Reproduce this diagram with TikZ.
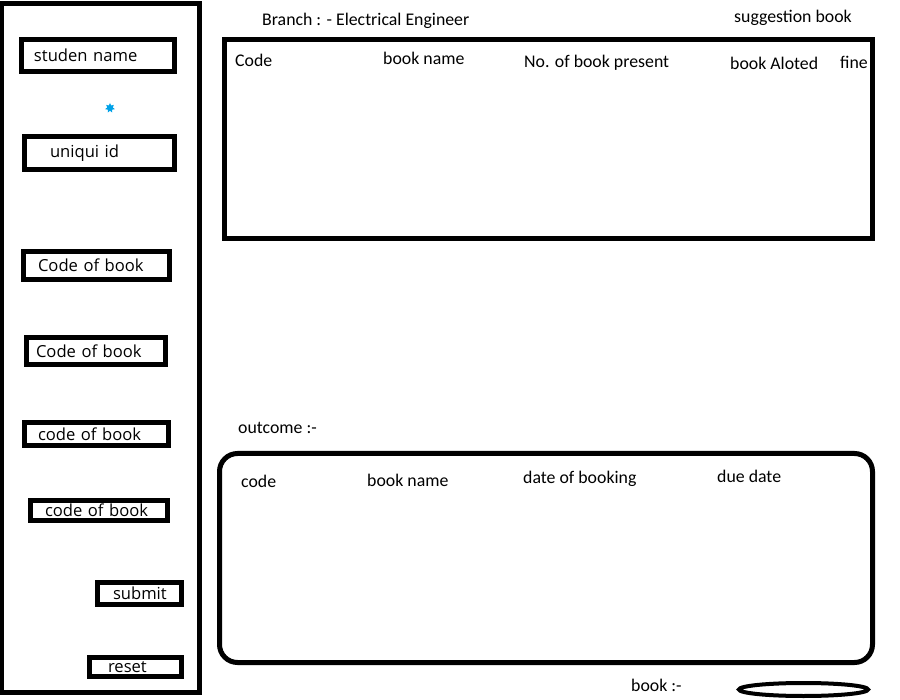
\documentclass[tikz,border=0pt]{standalone}
\usepackage{fontspec}
\setmainfont{Carlito}
\newfontfamily\boxfont{Open Sans}
\usetikzlibrary{shapes.geometric, positioning}
\definecolor{paintblue}{RGB}{0,162,232}

\begin{document}
\begin{tikzpicture}[x=1pt, y=-1pt,
    every node/.style={inner sep=0pt},
    lbl/.style={anchor=base west, font=\fontsize{17.8}{20}\selectfont},
    fieldbox/.style={draw, line width=5.5pt, inner xsep=0pt, align=left, font=\fontsize{16.6}{18}\selectfont\boxfont},
    panel/.style={draw, line width=5pt}]

\useasboundingbox (0,0) rectangle (900,700);

% Linke Leiste
\node[panel, line width=4.2pt, minimum width=197.5pt, minimum height=689pt] (side) at (100.75,348) {};
\node[fieldbox, text width=153pt, minimum height=32pt] (name) at (98,55.5) {\hspace*{12.5pt}studen name};
\node[star, star points=7, star point ratio=1.8, fill=paintblue, minimum size=10pt] (dot) at (110,108) {};
\node[fieldbox, text width=150pt, minimum height=33pt] (uid) at (99.5,153) {\hspace*{25.5pt}uniqui id};
\node[fieldbox, text width=146pt, minimum height=28pt] (cob1) at (96.5,265.5) {\hspace*{14.5pt}Code of book};
\node[fieldbox, text width=139pt, minimum height=27pt] (cob2) at (96,351) {\hspace*{9.5pt}Code of book};
\node[fieldbox, text width=144pt, minimum height=23pt] (cob3) at (96.5,434) {\hspace*{13.5pt}code of book};
\node[fieldbox, text width=137pt, minimum height=20pt] (cob4) at (99,510.5) {\hspace*{14.5pt}code of book};
\node[fieldbox, text width=84pt, minimum height=22pt] (submit) at (139.5,593.5) {\hspace*{15.5pt}submit};
\node[fieldbox, text width=92pt, minimum height=19pt] (reset) at (135.5,667) {\hspace*{18.5pt}reset};

% Oberer Bereich
\node[lbl] (branch) at (262,26) {Branch : - Electrical Engineer};
\node[lbl] (suggest) at (734,22.5) {suggestion book};
\node[panel, minimum width=648pt, minimum height=199pt] (sugg) at (548.5,139) {};
\node[lbl] (scode) at (235,66.7) {Code};
\node[lbl] (sname) at (383,64.3) {book name};
\node[lbl] (spresent) at (524,67.7) {No. of book present};
\node[lbl] (salot) at (730,69.3) {book Aloted};
\node[lbl] (sfine) at (840,68.3) {fine};

% Unterer Bereich
\node[lbl] (outcome) at (238,433.3) {outcome :-};
\node[panel, rounded corners=18pt, minimum width=653pt, minimum height=209pt] (out) at (546,558) {};
\node[lbl] (ocode) at (241,487.3) {code};
\node[lbl] (oname) at (367,486) {book name};
\node[lbl] (odate) at (523,484) {date of booking};
\node[lbl] (odue) at (717,482.7) {due date};

\node[lbl] (book) at (631,691.7) {book :-};
\node[panel, ellipse, line width=4pt, minimum width=129pt, minimum height=13pt] (bookfield) at (803.5,689.5) {};

\end{tikzpicture}
\end{document}
